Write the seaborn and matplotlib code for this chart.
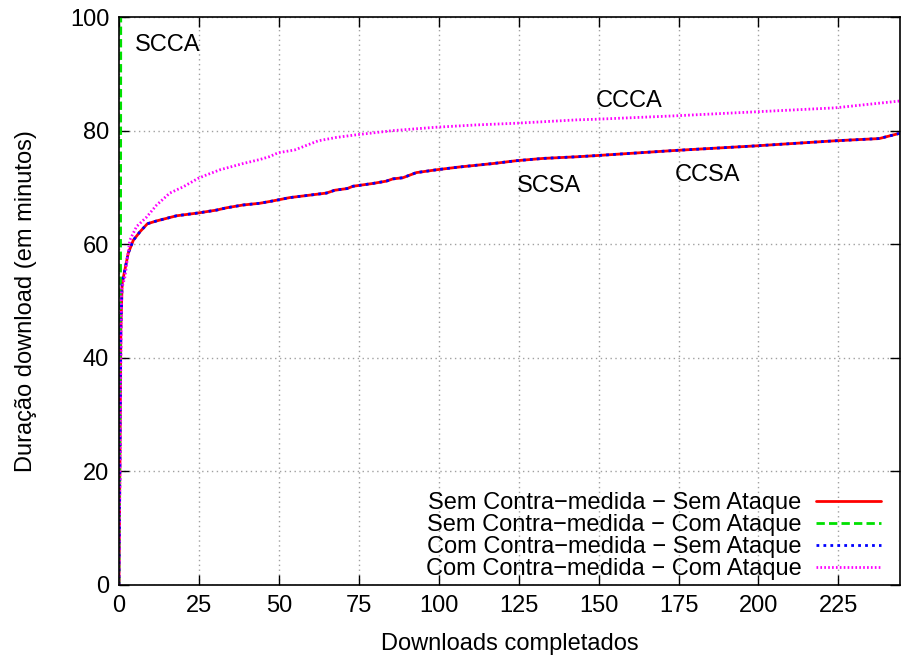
import numpy as np
import pandas as pd
import matplotlib
matplotlib.use('Agg')
import matplotlib.pyplot as plt
import seaborn as sns

# Curves (downloads completed vs. duration in minutes)
sem_sem_x = [0, 0.3, 0.6, 1.0, 2.9, 4.5, 6.6, 8.9, 11.8, 18, 24.8, 30.5, 33.6,
             38.8, 44, 47, 49.8, 53.4, 64.9, 67.5, 71.4, 73.2, 79.5, 83.6,
             85.7, 88.8, 93, 99.3, 106.6, 117, 124.3, 132.6, 143.5, 149.3,
             173.8, 198.8, 223.8, 237.8, 244]
sem_sem_y = [0, 20, 45, 53.1, 58.4, 60.7, 62.2, 63.6, 64.1, 65.0, 65.5, 66.0,
             66.4, 66.9, 67.2, 67.5, 67.8, 68.2, 69.0, 69.5, 69.8, 70.2, 70.7,
             71.1, 71.5, 71.7, 72.6, 73.1, 73.6, 74.2, 74.7, 75.1, 75.4, 75.6,
             76.5, 77.3, 78.2, 78.6, 79.5]

sem_com_x = [0, 0.5, 0.6]
sem_com_y = [0, 55, 120]

com_sem_x = sem_sem_x
com_sem_y = sem_sem_y

com_com_x = [0, 0.3, 0.8, 1.9, 3.4, 5.5, 8.7, 11.8, 15.9, 20.1, 24.8, 27.4,
             31.6, 38.8, 44, 47, 49.8, 55, 62.3, 68, 74.8, 85.7, 99.3, 111.8,
             124.3, 143.5, 149.3, 173.8, 198.8, 223.8, 244]
com_com_y = [0, 20, 52.0, 54.3, 60.7, 63.1, 64.8, 66.9, 69.0, 70.1, 71.6, 72.2,
             73.1, 74.2, 74.9, 75.4, 76.1, 76.6, 78.2, 78.8, 79.3, 80.0, 80.6,
             81.0, 81.3, 81.9, 82.0, 82.6, 83.3, 84.0, 85.2]

labels = ['Sem Contra\u2212medida \u2212 Sem Ataque',
          'Sem Contra\u2212medida \u2212 Com Ataque',
          'Com Contra\u2212medida \u2212 Sem Ataque',
          'Com Contra\u2212medida \u2212 Com Ataque']
short_names = ['SCCA', 'CCCA', 'SCSA', 'CCSA']
short_x = [15.3, 159.7, 134.4, 184]
short_y = [95, 85.2, 70.2, 72.2]

sns.set_style('ticks')
plt.rcParams['font.family'] = ['Liberation Sans', 'DejaVu Sans']
plt.rcParams['text.color'] = 'black'
plt.rcParams['axes.labelcolor'] = 'black'

FS = 17

fig = plt.figure(figsize=(9.01, 6.55), dpi=100)
ax = fig.add_axes([0.132, 0.107, 0.867, 0.867])

series = [
    (sem_sem_x, sem_sem_y, dict(color='#ff0000', lw=2.0, ls='-')),
    (sem_com_x, sem_com_y, dict(color='#00e000', lw=2.0, ls=(0, (3, 1.5)))),
    (com_sem_x, com_sem_y, dict(color='#0000ff', lw=2.0, ls=(0, (1, 1.5)))),
    (com_com_x, com_com_y, dict(color='#ff00ff', lw=2.0, ls=(0, (0.6, 0.8)))),
]
for (xs, ys, style), lab in zip(series, labels):
    df = pd.DataFrame({'x': xs, 'y': ys})
    sns.lineplot(data=df, x='x', y='y', ax=ax, label=lab, sort=False,
                 estimator=None, **style)

for name, tx, ty in zip(short_names, short_x, short_y):
    ax.text(tx, ty, name, ha='center', va='center', fontsize=FS)

ax.set_xlim(0, 244.3)
ax.set_ylim(0, 100)
ax.set_xticks(np.arange(0, 226, 25))
ax.set_yticks(np.arange(0, 101, 20))
ax.grid(True, color='#a0a0a0', ls=(0, (1, 2.5)), lw=1.0)
ax.tick_params(direction='in', length=7, width=1, top=True, right=True,
               labelsize=FS, pad=7, colors='black')
for sp in ax.spines.values():
    sp.set_color('black')
    sp.set_linewidth(1.2)

ax.set_xlabel('Downloads completados', fontsize=FS, labelpad=12)
ax.set_ylabel('Dura\u00e7\u00e3o download (em minutos)', fontsize=FS, labelpad=24)

leg = ax.legend(loc='lower right', bbox_to_anchor=(0.975, 0.008),
                frameon=False, markerfirst=False,
                fontsize=FS, handlelength=2.75, labelspacing=0.0,
                borderaxespad=0.0, handletextpad=0.6, borderpad=0.0)
for t in leg.get_texts():
    t.set_ha('right')
leg._legend_box.align = 'right'

fig.savefig('out.png', dpi=100)
